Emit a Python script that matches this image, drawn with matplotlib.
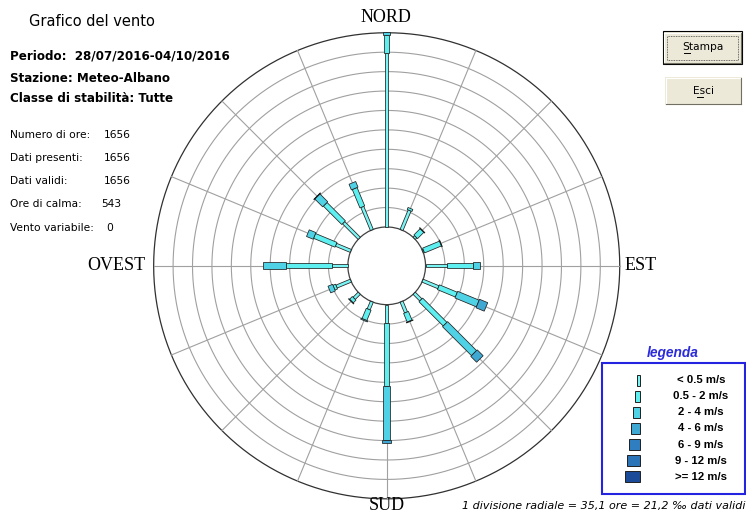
import numpy as np
import matplotlib
matplotlib.use("Agg")
import matplotlib.pyplot as plt
from matplotlib.patches import Polygon, Circle, Rectangle

# ---- data -------------------------------------------------------------
directions = ["N", "NNE", "NE", "ENE", "E", "ESE", "SE", "SSE",
              "S", "SSW", "SW", "WSW", "W", "WNW", "NW", "NNW"]
speed_classes = ["< 0.5 m/s", "0.5 - 2 m/s", "2 - 4 m/s", "4 - 6 m/s",
                 "6 - 9 m/s", "9 - 12 m/s", ">= 12 m/s"]

# hours per direction for each speed class
hours_lt05 = [314, 38, 4, 2, 38, 31, 17, 21, 33, 15, 13, 28, 28, 29, 40, 45]
hours_05_2 = [33, 4, 16, 33, 48, 35, 62, 17, 114, 20, 7, 5, 83, 42, 47, 36]
hours_2_4 = [5, 0, 1, 1, 12, 42, 74, 1, 98, 2, 1, 9, 43, 13, 20, 11]
hours_4_6 = [0, 0, 0, 0, 0, 16, 15, 0, 5, 0, 0, 0, 0, 0, 1, 0]
hours_6_9 = [0] * 16
hours_9_12 = [0] * 16
hours_ge12 = [0] * 16

periodo = "28/07/2016-04/10/2016"
stazione = "Meteo-Albano"
classe = "Tutte"
stat_labels = ["Numero di ore:", "Dati presenti:", "Dati validi:",
               "Ore di calma:", "Vento variabile:"]
stat_values = ["1656", "1656", "1656", "543", "0"]
valid_hours = 1656
hours_per_div = 35.1

class_hours = [hours_lt05, hours_05_2, hours_2_4, hours_4_6,
               hours_6_9, hours_9_12, hours_ge12]
class_colors = ["#7af5f5", "#5ef0f0", "#50d2e6", "#3fa8d2",
                "#2f7ec2", "#2c74b8", "#1a4a98"]
bar_px = [4, 6, 8, 10, 12, 14, 16]     # bar widths on the rose
key_px = [3, 5, 7, 9, 11, 13, 15]      # swatch widths in the legend

# ---- figure / axes ----------------------------------------------------
W, H = 746, 515
fig = plt.figure(figsize=(W / 100, H / 100), dpi=100)
fig.patch.set_facecolor("white")

PX = 19.42             # pixels per radial division
CX, CY = 386.7, 265.8  # rose centre in pixels
ax = fig.add_axes([0, 0, 1, 1])
ax.set_xlim(-CX / PX, (W - CX) / PX)
ax.set_ylim(-(H - CY) / PX, CY / PX)
ax.axis("off")


def fx(x):
    return x / W


def fy(y):
    return 1 - y / H


CALM_R = 2.0
N_DIV = 10
OUTER = CALM_R + N_DIV

# rings and spokes
t = np.linspace(0, 2 * np.pi, 721)
for k in range(1, N_DIV):
    r = CALM_R + k
    ax.plot(r * np.sin(t), r * np.cos(t), color="#a0a0a0", lw=0.8, zorder=1)
ax.plot(OUTER * np.sin(t), OUTER * np.cos(t), color="#303030", lw=0.9, zorder=1)
for i in range(16):
    a = np.deg2rad(i * 22.5)
    ax.plot([CALM_R * np.sin(a), OUTER * np.sin(a)],
            [CALM_R * np.cos(a), OUTER * np.cos(a)],
            color="#a0a0a0", lw=0.8, zorder=1)
ax.add_patch(Circle((0, 0), CALM_R, facecolor="white", edgecolor="#404040",
                    lw=0.9, zorder=2))

# stacked bars, one segment per speed class
for i, d in enumerate(directions):
    a = np.deg2rad(i * 22.5)
    u = np.array([np.sin(a), np.cos(a)])
    n = np.array([np.cos(a), -np.sin(a)])
    r0 = CALM_R
    for c in range(len(speed_classes)):
        h = class_hours[c][i]
        if h <= 0:
            continue
        r1 = r0 + h / hours_per_div
        half = (bar_px[c] - 0.8) / 2 / PX
        pts = [r0 * u + half * n, r1 * u + half * n,
               r1 * u - half * n, r0 * u - half * n]
        ax.add_patch(Polygon(pts, closed=True, facecolor=class_colors[c],
                             edgecolor="#202020", lw=0.55, zorder=3 + c))
        r0 = r1

# compass labels
serif = "Liberation Serif"
fig.text(fx(386), fy(18), "NORD", family=serif, fontsize=13, ha="center", va="center")
fig.text(fx(387), fy(506), "SUD", family=serif, fontsize=13, ha="center", va="center")
fig.text(fx(145), fy(265), "OVEST", family=serif, fontsize=13, ha="right", va="center")
fig.text(fx(625), fy(265), "EST", family=serif, fontsize=13, ha="left", va="center")

# header texts
fig.text(fx(29), fy(22), "Grafico del vento", fontsize=10.5, va="center")
fig.text(fx(10), fy(56), "Periodo:  " + periodo, fontsize=8.6, weight="bold", va="center")
fig.text(fx(10), fy(78), "Stazione: " + stazione, fontsize=8.6, weight="bold", va="center")
fig.text(fx(10), fy(99), "Classe di stabilità: " + classe, fontsize=8.6, weight="bold", va="center")

stat_y = [135, 158, 181, 204, 228]
stat_x = [104, 104, 104, 101, 106]
for lab, val, y, x in zip(stat_labels, stat_values, stat_y, stat_x):
    fig.text(fx(10), fy(y), lab, fontsize=7.7, va="center")
    fig.text(fx(x), fy(y), val, fontsize=7.7, va="center")

# footnote
permille = hours_per_div / valid_hours * 1000
foot = f"1 divisione radiale = {hours_per_div:.1f} ore = {permille:.1f} ‰ dati validi".replace(".", ",")
fig.text(fx(462), fy(506), foot, fontsize=8.0, style="italic", va="center")

# legend
fig.text(fx(673), fy(353), "legenda", family="Liberation Sans", fontsize=9.9,
         weight="bold", style="italic", color="#2b2bd9", ha="center", va="center")
fig.patches.append(Rectangle((fx(601.5), fy(493.5)), (745 - 601.5) / W, (493.5 - 363) / H,
                             transform=fig.transFigure, facecolor="white",
                             edgecolor="#2424e0", lw=1.5, zorder=5))
for c, lab in enumerate(speed_classes):
    yc = 380 + 16.15 * c
    w = key_px[c]
    fig.patches.append(Rectangle((fx(640 - w), fy(yc + 5.5)), w / W, 11 / H,
                                 transform=fig.transFigure,
                                 facecolor=class_colors[c], edgecolor="#202020",
                                 lw=0.7, zorder=6))
    fig.text(fx(701), fy(yc), lab, family="Liberation Sans", fontsize=8.2,
             weight="bold", ha="center", va="center", zorder=7)


# buttons
def button(x0, y0, x1, y1, label, default=False):
    face = "#ece9d8"
    fig.patches.append(Rectangle((fx(x0), fy(y1)), (x1 - x0) / W, (y1 - y0) / H,
                                 transform=fig.transFigure, facecolor=face,
                                 edgecolor="#000000" if default else "none",
                                 lw=0.8, zorder=5))
    # bevel
    fig.lines.append(plt.Line2D([fx(x0 + 1), fx(x1 - 1)], [fy(y0 + 1), fy(y0 + 1)],
                                transform=fig.transFigure, color="white", lw=0.8, zorder=6))
    fig.lines.append(plt.Line2D([fx(x0 + 1), fx(x0 + 1)], [fy(y0 + 1), fy(y1 - 1)],
                                transform=fig.transFigure, color="white", lw=0.8, zorder=6))
    fig.lines.append(plt.Line2D([fx(x0 + 1), fx(x1 - 1)], [fy(y1 - 1), fy(y1 - 1)],
                                transform=fig.transFigure, color="#716f64", lw=0.8, zorder=6))
    fig.lines.append(plt.Line2D([fx(x1 - 1), fx(x1 - 1)], [fy(y0 + 1), fy(y1 - 1)],
                                transform=fig.transFigure, color="#716f64", lw=0.8, zorder=6))
    if default:
        fig.patches.append(Rectangle((fx(x0 + 4), fy(y1 - 4)), (x1 - x0 - 8) / W,
                                     (y1 - y0 - 8) / H, transform=fig.transFigure,
                                     facecolor="none", edgecolor="#404040",
                                     lw=0.6, ls=(0, (1, 1)), zorder=6))
    xc, yc = (x0 + x1) / 2, (y0 + y1) / 2
    fig.text(fx(xc), fy(yc), label, fontsize=7.7, ha="center", va="center", zorder=7)


button(663, 31.5, 742, 63.5, "Stampa", default=True)
button(665, 77, 742, 105, "Esci")
# mnemonic underlines
fig.lines.append(plt.Line2D([fx(684), fx(690)], [fy(52.5), fy(52.5)],
                            transform=fig.transFigure, color="black", lw=0.7, zorder=8))
fig.lines.append(plt.Line2D([fx(697), fx(703)], [fy(96.5), fy(96.5)],
                            transform=fig.transFigure, color="black", lw=0.7, zorder=8))

fig.savefig("out.png", dpi=100)
